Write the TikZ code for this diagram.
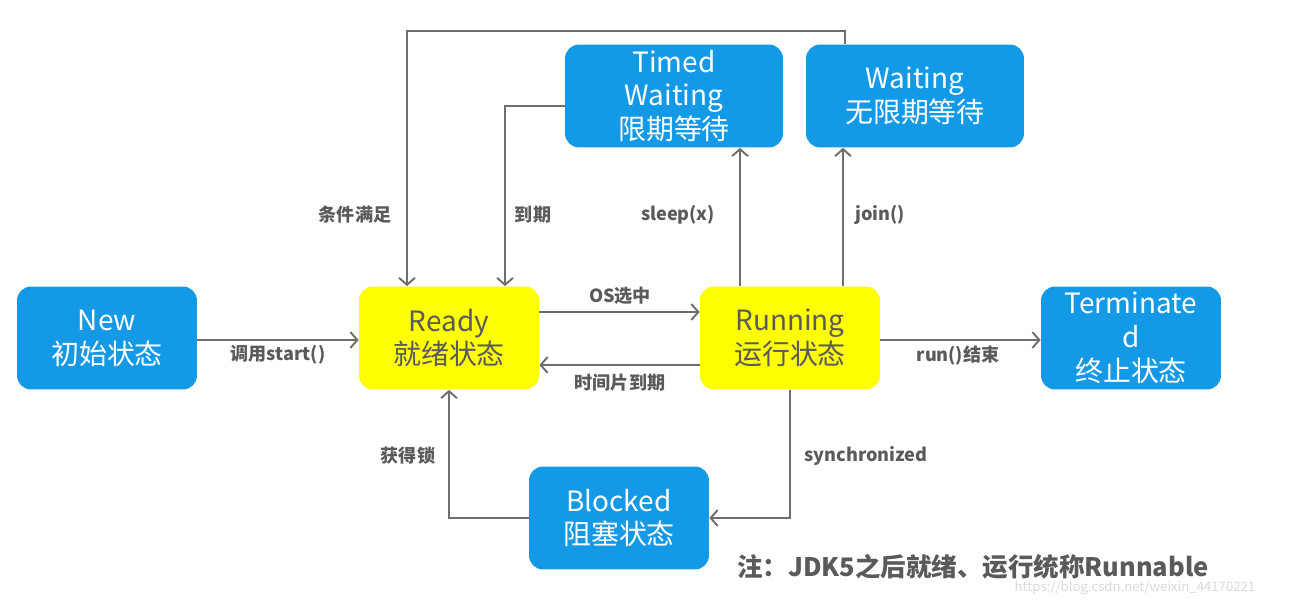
\documentclass[tikz,border=0pt]{standalone}
\usepackage{fontspec}
\setmainfont{Noto Sans CJK SC}
\usetikzlibrary{arrows.meta}
\definecolor{stblue}{HTML}{1499E6}
\definecolor{styellow}{HTML}{FFFF00}
\definecolor{lncolor}{HTML}{6E6E6E}
\definecolor{txgray}{HTML}{5A5A5A}
\tikzset{
  state/.style={rounded corners=8pt, minimum width=3.6cm, minimum height=2.06cm,
    align=center, inner sep=0pt, font=\fontsize{15.9}{19.3}\selectfont},
  bluestate/.style={state, fill=stblue, text=white},
  yellowstate/.style={state, fill=styellow, text=txgray},
  flow/.style={draw=lncolor, line width=1.1pt, -{Straight Barb[length=4pt,width=9pt]}},
  lbl/.style={text=txgray, inner sep=0pt, font=\fontsize{10.3}{12}\selectfont\bfseries},
}

\begin{document}
\begin{tikzpicture}[x=0.02cm,y=-0.02cm]
\useasboundingbox (0,0) rectangle (1291,605);

\node[bluestate] (new) at (107,338) {New\\初始状态};
\node[yellowstate] (ready) at (449,338) {Ready\\就绪状态};
\node[yellowstate] (running) at (790,338) {Running\\运行状态};
\node[bluestate] (term) at (1131,338) {Terminate\\d\\终止状态};
\node[bluestate, minimum width=4.36cm] (timed) at (674,96) {Timed\\Waiting\\限期等待};
\node[bluestate, minimum width=4.36cm] (waiting) at (915,96) {Waiting\\无限期等待};
\node[bluestate] (blocked) at (619,518) {Blocked\\阻塞状态};

\coordinate (topbend) at (407,31);

\draw[flow] (new.east |- 0,340) -- (ready.west |- 0,340);
\draw[flow] (ready.east |- 0,312) -- (running.west |- 0,312);
\draw[flow] (running.west |- 0,365) -- (ready.east |- 0,365);
\draw[flow] (running.east |- 0,340) -- (term.west |- 0,340);
\draw[flow] (running.north -| 740,0) -- (timed.south -| 740,0);
\draw[flow] (running.north -| 843,0) -- (waiting.south -| 843,0);
\draw[flow] (waiting.north -| 845,0) |- (topbend) -- (ready.north -| topbend);
\draw[flow] (timed.west |- 0,106) -| (ready.north -| 505,0);
\draw[flow] (running.south) |- (blocked.east);
\draw[flow] (blocked.west) -| (ready.south);

\node[lbl] (l1) at (278,355) {调用start()};
\node[lbl] (l2) at (620,296) {OS选中};
\node[lbl] (l3) at (620,383) {时间片到期};
\node[lbl] (l4) at (958,356) {run()结束};
\node[lbl] (l5) at (678,215) {sleep(x)};
\node[lbl] (l6) at (880,215) {join()};
\node[lbl] (l7) at (355,215) {条件满足};
\node[lbl] (l8) at (533,215) {到期};
\node[lbl] (l9) at (408,456) {获得锁};
\node[lbl] (l10) at (866,456) {synchronized};

\node[text=txgray, inner sep=0pt, font=\fontsize{14.5}{17}\selectfont\bfseries] (note) at (973,567)
{注：JDK5之后就绪、运行统称Runnable};
\node[text=gray!30, inner sep=0pt, font=\fontsize{7.5}{9}\selectfont] (mark) at (1135,588)
{https://blog.csdn.net/weixin\_44170221};
\end{tikzpicture}
\end{document}
